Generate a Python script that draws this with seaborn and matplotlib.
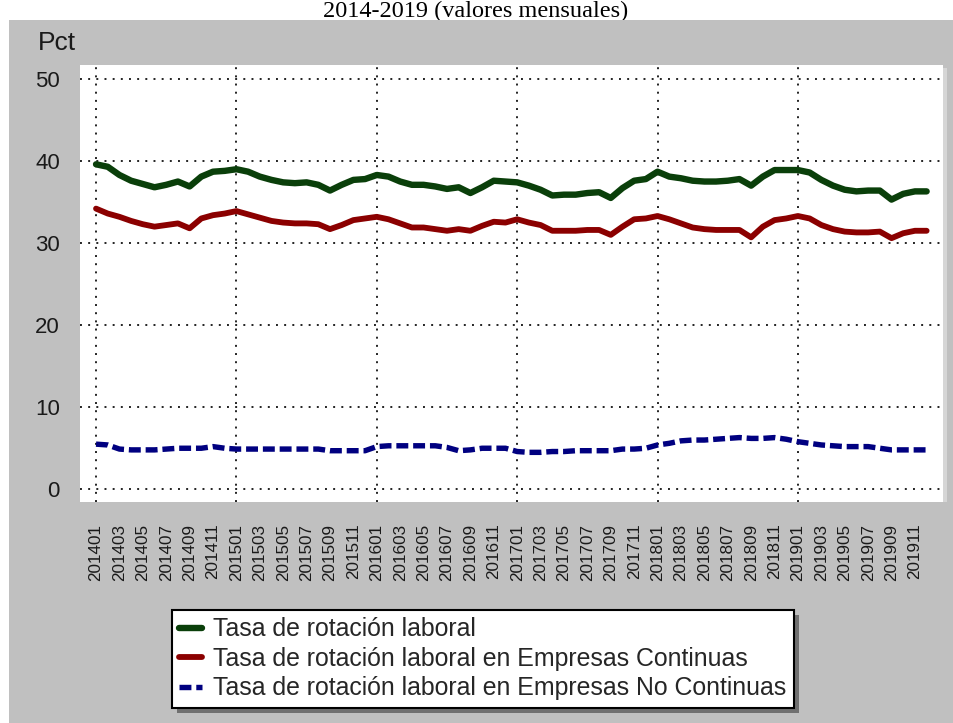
import numpy as np
import pandas as pd
import matplotlib
matplotlib.use("Agg")
import matplotlib.pyplot as plt
import seaborn as sns
from matplotlib.patches import Rectangle

# ---------------- data ----------------
months = [f"{y}{m:02d}" for y in range(2014, 2020) for m in range(1, 13)]

total = [39.6, 39.3, 38.3, 37.6, 37.2, 36.8, 37.1, 37.5, 36.9, 38.1, 38.7, 38.8,
         39.0, 38.7, 38.1, 37.7, 37.4, 37.3, 37.4, 37.1, 36.4, 37.1, 37.7, 37.8,
         38.3, 38.1, 37.5, 37.1, 37.1, 36.9, 36.6, 36.8, 36.1, 36.8, 37.6, 37.5,
         37.4, 37.0, 36.5, 35.8, 35.9, 35.9, 36.1, 36.2, 35.5, 36.7, 37.6, 37.8,
         38.7, 38.1, 37.9, 37.6, 37.5, 37.5, 37.6, 37.8, 37.0, 38.1, 38.9, 38.9,
         38.9, 38.6, 37.7, 37.0, 36.5, 36.3, 36.4, 36.4, 35.3, 36.0, 36.3, 36.3]

continuas = [34.2, 33.6, 33.2, 32.7, 32.3, 32.0, 32.2, 32.4, 31.8, 33.0, 33.4, 33.6,
             33.9, 33.5, 33.1, 32.7, 32.5, 32.4, 32.4, 32.3, 31.7, 32.2, 32.8, 33.0,
             33.2, 32.9, 32.4, 31.9, 31.9, 31.7, 31.5, 31.7, 31.5, 32.1, 32.6, 32.5,
             32.9, 32.5, 32.2, 31.5, 31.5, 31.5, 31.6, 31.6, 31.0, 32.0, 32.9, 33.0,
             33.3, 32.9, 32.4, 31.9, 31.7, 31.6, 31.6, 31.6, 30.7, 32.0, 32.8, 33.0,
             33.3, 33.0, 32.2, 31.7, 31.4, 31.3, 31.3, 31.4, 30.6, 31.2, 31.5, 31.5]

no_continuas = [5.5, 5.4, 4.9, 4.8, 4.8, 4.8, 4.9, 5.0, 5.0, 5.0, 5.2, 5.0,
                4.9, 4.9, 4.9, 4.9, 4.9, 4.9, 4.9, 4.9, 4.7, 4.7, 4.7, 4.7,
                5.2, 5.3, 5.3, 5.3, 5.3, 5.3, 5.1, 4.7, 4.8, 5.0, 5.0, 5.0,
                4.6, 4.5, 4.5, 4.6, 4.6, 4.7, 4.7, 4.7, 4.7, 4.9, 4.9, 5.0,
                5.4, 5.6, 5.9, 6.0, 6.0, 6.1, 6.2, 6.3, 6.2, 6.2, 6.3, 6.1,
                5.8, 5.6, 5.4, 5.3, 5.2, 5.2, 5.2, 5.0, 4.8, 4.8, 4.8, 4.8]

series_labels = ["Tasa de rotación laboral",
                 "Tasa de rotación laboral en Empresas Continuas",
                 "Tasa de rotación laboral en Empresas No Continuas"]
y_ticks = [0, 10, 20, 30, 40, 50]
title = "2014-2019 (valores mensuales)"
y_label = "Pct"

df = pd.DataFrame({"idx": np.arange(len(months)), "mes": months,
                   "total": total, "cont": continuas, "nocont": no_continuas})

# ---------------- style ----------------
sns.set_style("white")
plt.rcParams["font.family"] = ["Liberation Sans", "DejaVu Sans"]

W, H = 954, 723
fig = plt.figure(figsize=(W / 100, H / 100), dpi=100)
fig.patch.set_facecolor("white")

# gray panel
fig.add_artist(Rectangle((9 / W, 0), 1 - 9 / W, (H - 20) / H, transform=fig.transFigure,
                         facecolor="#c0c0c0", edgecolor="none", zorder=-1))
# title at the very top
fig.text(476 / W, 1 - 17 / H, title, ha="center", va="baseline", fontsize=17.5,
         family=["Liberation Serif", "DejaVu Serif"], color="black", zorder=-2)
fig.text(38 / W, 1 - 50 / H, y_label, ha="left", va="baseline", fontsize=19, color="#1a1a1a")

left, top, right, bottom = 80, 65, 943, 502
ax = fig.add_axes([left / W, 1 - bottom / H, (right - left) / W, (bottom - top) / H])
ax.set_facecolor("white")
# light shadow of plot area on the right
fig.add_artist(Rectangle((right / W, 1 - bottom / H), 4 / W, (bottom - top - 3) / H,
                         transform=fig.transFigure, facecolor="#d6d6d6",
                         edgecolor="none", zorder=-0.5))

sns.lineplot(data=df, x="idx", y="total", color="#0a3f0a", lw=4.6, ax=ax,
             label=series_labels[0], solid_capstyle="round")
sns.lineplot(data=df, x="idx", y="cont", color="#8b0000", lw=4.2, ax=ax,
             label=series_labels[1], solid_capstyle="round")
sns.lineplot(data=df, x="idx", y="nocont", color="#000080", lw=3.9, ax=ax,
             label=series_labels[2], linestyle=(0, (2.2, 0.9)), dash_capstyle="butt")

ax.set_xlim(-1.37, 72.4)
ax.set_ylim(-1.55, 51.7)
ax.set_xlabel("")
ax.set_ylabel("")

ax.set_xticks(df["idx"][::2])
ax.set_xticklabels(df["mes"][::2], rotation=90, fontsize=12.3, color="#1a1a1a")
ax.set_yticks(y_ticks)
ax.set_yticklabels([str(v) for v in y_ticks], fontsize=16, color="#1a1a1a")

ax.tick_params(axis="both", which="major", direction="out", color="#9a9a9a",
               width=1.5, length=9.5)
ax.tick_params(axis="x", which="major", pad=6)
ax.tick_params(axis="y", which="major", pad=5)

grid_kw = dict(color="#222222", linestyle=(0, (1, 3.2)), linewidth=1.4, zorder=0.5)
ax.grid(False)
for yv in y_ticks:
    ax.axhline(yv, **grid_kw)
for xv in df["idx"][::12]:
    ax.axvline(xv, **grid_kw)
for s in ax.spines.values():
    s.set_visible(False)

# legend
handles, labels = ax.get_legend_handles_labels()
ax.get_legend().remove()
leg = fig.legend(handles, labels, loc="upper left",
                 bbox_to_anchor=(172 / W, 1 - 610 / H), bbox_transform=fig.transFigure,
                 borderaxespad=0, fontsize=17.9, frameon=True, fancybox=False,
                 framealpha=1, edgecolor="black", handlelength=0.9,
                 handletextpad=0.45, labelspacing=0.22, borderpad=0.3)
leg.get_frame().set_linewidth(1.5)
leg.set_zorder(6)

fig.canvas.draw()
bb = leg.get_window_extent()
inv = fig.transFigure.inverted()
(x0, y0), (x1, y1) = inv.transform([(bb.x0 + 5, bb.y0 - 5), (bb.x1 + 5, bb.y1 - 5)])
fig.add_artist(Rectangle((x0, y0), x1 - x0, y1 - y0, transform=fig.transFigure,
                         facecolor="#707070", edgecolor="none", zorder=5))

fig.savefig("out.png", dpi=100, facecolor=fig.get_facecolor())
